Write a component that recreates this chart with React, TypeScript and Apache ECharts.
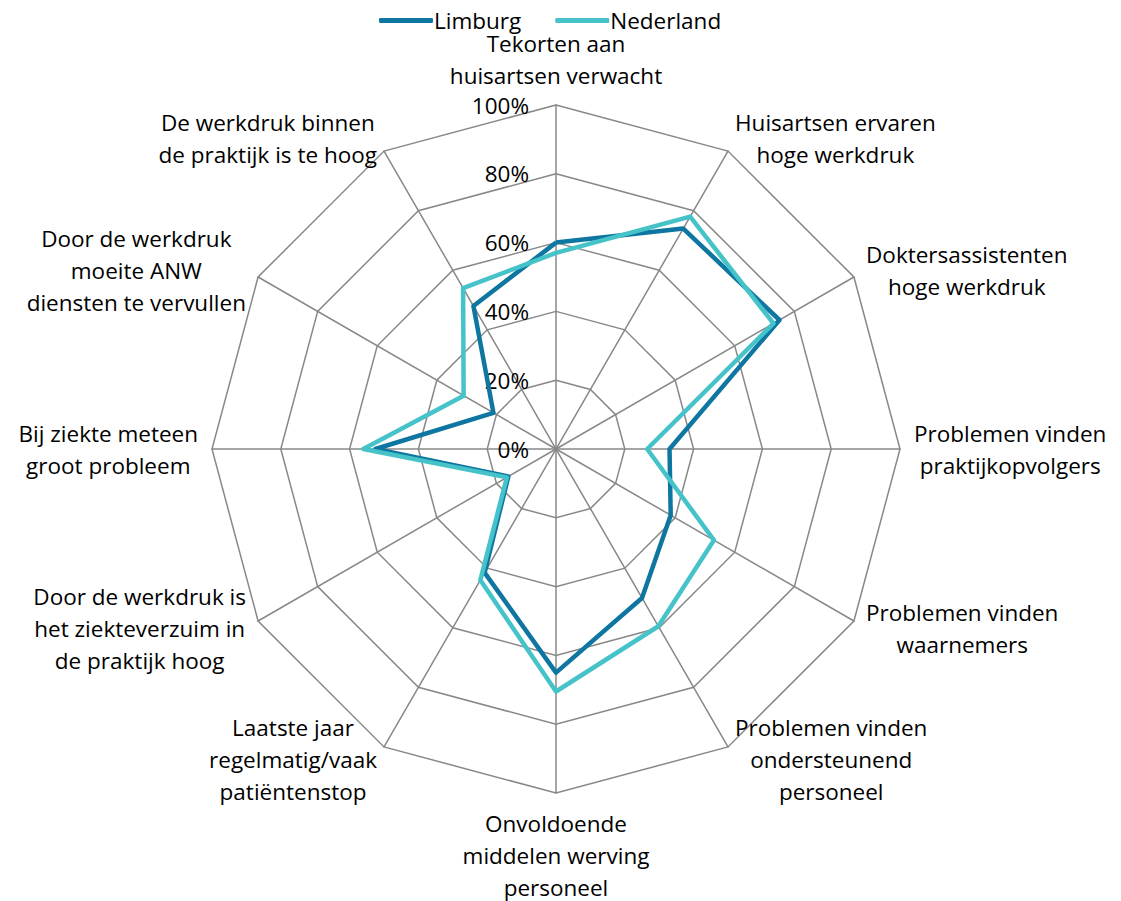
import React, { useEffect, useRef } from "react";
import * as echarts from "echarts";

// Categories in clockwise order starting at the top
const indicators = [
  "Tekorten aan\nhuisartsen verwacht",
  "Huisartsen ervaren\nhoge werkdruk",
  "Doktersassistenten\nhoge werkdruk",
  "Problemen vinden\npraktijkopvolgers",
  "Problemen vinden\nwaarnemers",
  "Problemen vinden\nondersteunend\npersoneel",
  "Onvoldoende\nmiddelen werving\npersoneel",
  "Laatste jaar\nregelmatig/vaak\npatiëntenstop",
  "Door de werkdruk is\nhet ziekteverzuim in\nde praktijk hoog",
  "Bij ziekte meteen\ngroot probleem",
  "Door de werkdruk\nmoeite ANW\ndiensten te vervullen",
  "De werkdruk binnen\nde praktijk is te hoog",
];

const limburg = [60, 74, 75, 33, 38.5, 50, 65, 41.5, 16, 52.5, 21, 48];
const nederland = [57, 78, 73, 26.5, 53, 59.5, 70.5, 44, 16.5, 56, 31, 54];

const seriesNames = ["Limburg", "Nederland"];
const colors = ["#0E76A0", "#45C3C9"];

const FONT = "'Open Sans', sans-serif";
const FS = 22.5;

// ECharts radar runs counter-clockwise; reorder so the chart reads clockwise.
const cw = <T,>(arr: T[]): T[] => [arr[0], ...arr.slice(1).reverse()];

export default function App() {
  const ref = useRef<HTMLDivElement>(null);
  useEffect(() => {
    document.body.style.margin = "0";
    const chart = echarts.init(ref.current!, undefined, { renderer: "svg" });
    const names = cw(indicators);
    chart.setOption({
      animation: false,
      backgroundColor: "#ffffff",
      textStyle: { fontFamily: FONT },
      legend: {
        top: 4,
        left: 374,
        data: seriesNames,
        icon: "roundRect",
        itemWidth: 54,
        itemHeight: 5,
        itemGap: 34,
        textStyle: { fontSize: FS, color: "#000", fontFamily: FONT, padding: [0, 0, 0, -4] },
      },
      radar: {
        center: [556, 449],
        radius: 344,
        startAngle: 90,
        shape: "polygon",
        splitNumber: 5,
        nameGap: 14,
        axisName: {
          color: "#000",
          fontSize: FS,
          fontFamily: FONT,
          formatter: (name: string) =>
            name
              .split("\n")
              .map((l) => `{c|${l}}`)
              .join("\n"),
          rich: {
            c: { align: "center", fontSize: FS, lineHeight: 32, color: "#000", fontFamily: FONT },
          },
        },
        axisLine: { lineStyle: { color: "#888888", width: 1.5 } },
        splitLine: { lineStyle: { color: "#888888", width: 1.5 } },
        splitArea: { show: false },
        axisTick: { show: false },
        axisLabel: { show: false },
        indicator: names.map((name, i) =>
          i === 0
            ? {
                name,
                min: 0,
                max: 100,
                axisLabel: {
                  show: true,
                  margin: 27,
                  color: "#000",
                  fontSize: FS,
                  fontFamily: FONT,
                  formatter: (v: number) => `${v}%`,
                },
              }
            : { name, min: 0, max: 100 }
        ),
      },
      series: [
        {
          type: "radar",
          symbol: "none",
          data: [
            {
              name: seriesNames[0],
              value: cw(limburg),
              lineStyle: { color: colors[0], width: 4.5 },
              itemStyle: { color: colors[0] },
            },
            {
              name: seriesNames[1],
              value: cw(nederland),
              lineStyle: { color: colors[1], width: 4.5 },
              itemStyle: { color: colors[1] },
            },
          ],
        },
      ],
    });
    return () => chart.dispose();
  }, []);
  return <div ref={ref} style={{ width: 1121, height: 901 }} />;
}
